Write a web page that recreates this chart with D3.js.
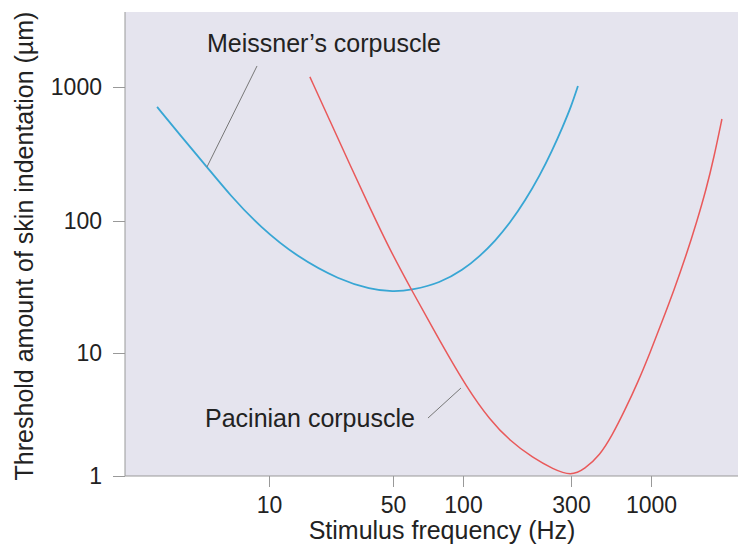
<!DOCTYPE html>
<html lang="en">
<head>
<meta charset="utf-8">
<script src="https://d3js.org/d3.v7.min.js"></script>
<style>
  body { margin: 0; background: #fff; }
  text { font-family: "Liberation Sans", Arial, Helvetica, sans-serif; fill: #222; }
  .axis .domain { display: none; }
  .axis line { stroke: #999; }
  .axis text { font-size: 23px; fill: #222; }
</style>
</head>
<body>
<svg id="chart" width="738" height="549"></svg>
<script>
// tick values
const xTicks = [10, 50, 100, 300, 1000];
const yTicks = [1, 10, 100, 1000];

// Meissner's corpuscle (Hz, threshold in µm)
const meissnerHz = [2.34, 3.15, 4.47, 6.03, 8.9, 14.4, 25.1, 37.1, 50, 60.4, 79.6, 100, 118.9, 138.5, 161.3, 187.9, 218.9, 247.3, 276.6, 300, 333];
const meissnerUm = [710, 438, 253, 156, 90.1, 53.4, 35.7, 30.5, 29.0, 30.0, 33.9, 42.6, 54.3, 70.5, 96.6, 141, 220, 333, 511, 710, 1016];

// Pacinian corpuscle (Hz, threshold in µm)
const pacinianHz = [17.0, 22.1, 28.6, 37.1, 48.1, 60.4, 79.6, 104.2, 131.6, 161.3, 203.8, 249.8, 300, 369, 464, 554, 676, 822, 984, 1179, 1414, 1693, 1998, 2287, 2582, 2908];
const pacinianUm = [1189, 557, 262, 125, 60.3, 29.5, 12.3, 5.19, 2.85, 1.93, 1.40, 1.14, 1.0, 1.14, 1.48, 2.11, 3.44, 5.81, 10, 17.2, 30.0, 54.3, 100, 170, 300, 577];

const svg = d3.select("#chart");
const plotLeft = 125, plotRight = 738, plotTop = 12, plotBottom = 476;

// the printed axis is not evenly spaced, so the log scales are piecewise
const x = d3.scaleLog().domain(xTicks).range([269, 393, 463, 571, 651]);
const y = d3.scaleLog().domain(yTicks).range([476, 353, 221, 87]);

// plot background
svg.append("rect")
   .attr("x", plotLeft).attr("y", plotTop)
   .attr("width", plotRight - plotLeft).attr("height", plotBottom - plotTop)
   .attr("fill", "#e5e4ee");

// axes
svg.append("g").attr("class", "axis")
   .attr("transform", `translate(${plotLeft},0)`)
   .call(d3.axisLeft(y).tickValues(yTicks).tickFormat(d3.format("d")).tickSize(12).tickPadding(11));

svg.append("g").attr("class", "axis")
   .attr("transform", `translate(0,${plotBottom})`)
   .call(d3.axisBottom(x).tickValues(xTicks).tickFormat(d3.format("d")).tickSize(11).tickPadding(10));

svg.append("line")
   .attr("x1", plotLeft).attr("x2", plotLeft).attr("y1", plotTop).attr("y2", plotBottom)
   .attr("stroke", "#999");
svg.append("line")
   .attr("x1", plotLeft).attr("x2", plotRight).attr("y1", plotBottom).attr("y2", plotBottom)
   .attr("stroke", "#999");

// curves
const line = d3.line()
   .x(d => x(d[0]))
   .y(d => y(d[1]))
   .curve(d3.curveBasis);

svg.append("path")
   .datum(d3.zip(meissnerHz, meissnerUm))
   .attr("fill", "none")
   .attr("stroke", "#38a6d4")
   .attr("stroke-width", 1.8)
   .attr("d", line);

svg.append("path")
   .datum(d3.zip(pacinianHz, pacinianUm))
   .attr("fill", "none")
   .attr("stroke", "#e9595a")
   .attr("stroke-width", 1.5)
   .attr("d", line);

// annotations: leader lines and labels, in data units
const leaders = [
  [[4.47, 253], [8.56, 1435]],
  [[98, 5.19], [70.7, 2.96]]
];
svg.selectAll("line.leader")
   .data(leaders)
   .join("line")
   .attr("class", "leader")
   .attr("x1", d => x(d[0][0])).attr("y1", d => y(d[0][1]))
   .attr("x2", d => x(d[1][0])).attr("y2", d => y(d[1][1]))
   .attr("stroke", "#777")
   .attr("stroke-width", 1);

const labels = [
  { text: "Meissner\u2019s corpuscle", hz: 4.47, um: 1824 },
  { text: "Pacinian corpuscle", hz: 4.36, um: 2.5 }
];
svg.selectAll("text.label")
   .data(labels)
   .join("text")
   .attr("class", "label")
   .attr("x", d => x(d.hz))
   .attr("y", d => y(d.um))
   .attr("font-size", 25)
   .text(d => d.text);

// axis titles
svg.append("text")
   .attr("x", 442).attr("y", 539)
   .attr("text-anchor", "middle")
   .attr("font-size", 25)
   .text("Stimulus frequency (Hz)");

svg.append("text")
   .attr("transform", "translate(33,246) rotate(-90)")
   .attr("text-anchor", "middle")
   .attr("font-size", 25)
   .text("Threshold amount of skin indentation (\u00b5m)");
</script>
</body>
</html>
